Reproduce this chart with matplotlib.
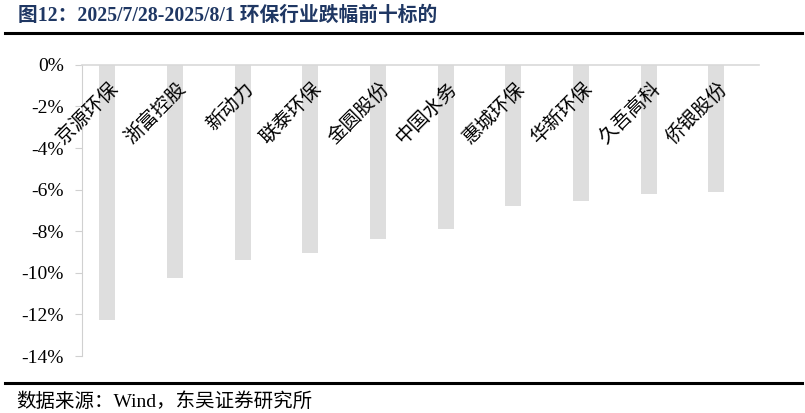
import matplotlib
matplotlib.use("Agg")
import matplotlib.pyplot as plt
from matplotlib.lines import Line2D
from matplotlib.ticker import FuncFormatter
from matplotlib.transforms import ScaledTranslation

# 数据：2025/7/28-2025/8/1 环保行业跌幅前十
names = ["京源环保", "浙富控股", "新动力", "联泰环保", "金圆股份",
         "中国水务", "惠城环保", "华新环保", "久吾高科", "侨银股份"]
changes = [-12.25, -10.26, -9.39, -9.07, -8.35, -7.87, -6.80, -6.57, -6.22, -6.12]
yticks = [0, -2, -4, -6, -8, -10, -12, -14]

title = "图12：2025/7/28-2025/8/1 环保行业跌幅前十标的"
source = "数据来源：Wind，东吴证券研究所"

plt.rcParams['font.family'] = ['Liberation Serif', 'Noto Sans CJK SC', 'DejaVu Sans']

fig = plt.figure(figsize=(8.05, 4.13), dpi=100)
ax = fig.add_axes([0.102, 0.138, 0.841, 0.705])

x = list(range(len(names)))
ax.bar(x, changes, width=0.236, color="#dedede", zorder=1)

ax.set_xlim(-0.37, len(names) - 1 + 0.63)
ax.set_ylim(-14, 0)
ax.set_yticks(yticks)
ax.yaxis.set_major_formatter(FuncFormatter(lambda v, p: f"{v:.0f}%"))
ax.tick_params(axis="y", labelsize=14, length=5, color="#d0d0d0", pad=8)

for s in ["top", "right"]:
    ax.spines[s].set_visible(False)
ax.spines["left"].set_color("#d0d0d0")
ax.spines["bottom"].set_position(("data", 0))
ax.spines["bottom"].set_color("#d9d9d9")
ax.spines["bottom"].set_linewidth(1.2)

# 类别标签：斜放在零轴下方，压在柱子上
ax.set_xticks(x)
ax.set_xticklabels(names, rotation=45, ha="right", va="center",
                   rotation_mode="anchor", family=["Noto Sans CJK SC"], fontsize=14)
ax.tick_params(axis="x", length=0, pad=15)
ax.xaxis.set_zorder(5)
for lab in ax.get_xticklabels():
    lab.set_transform(lab.get_transform() + ScaledTranslation(0.08, 0, fig.dpi_scale_trans))

# 标题与来源
fig.text(0.022, 0.962, title, fontsize=14.2, fontweight="bold", color="#1f3763",
         va="center", ha="left")
fig.add_artist(Line2D([0.006, 0.996], [0.92, 0.92], color="black", lw=2.2,
                      transform=fig.transFigure))
fig.add_artist(Line2D([0.006, 0.996], [0.073, 0.073], color="black", lw=2.2,
                      transform=fig.transFigure))
fig.text(0.02, 0.027, source, fontsize=14, color="black", va="center", ha="left")

fig.savefig("out.png", dpi=100)
